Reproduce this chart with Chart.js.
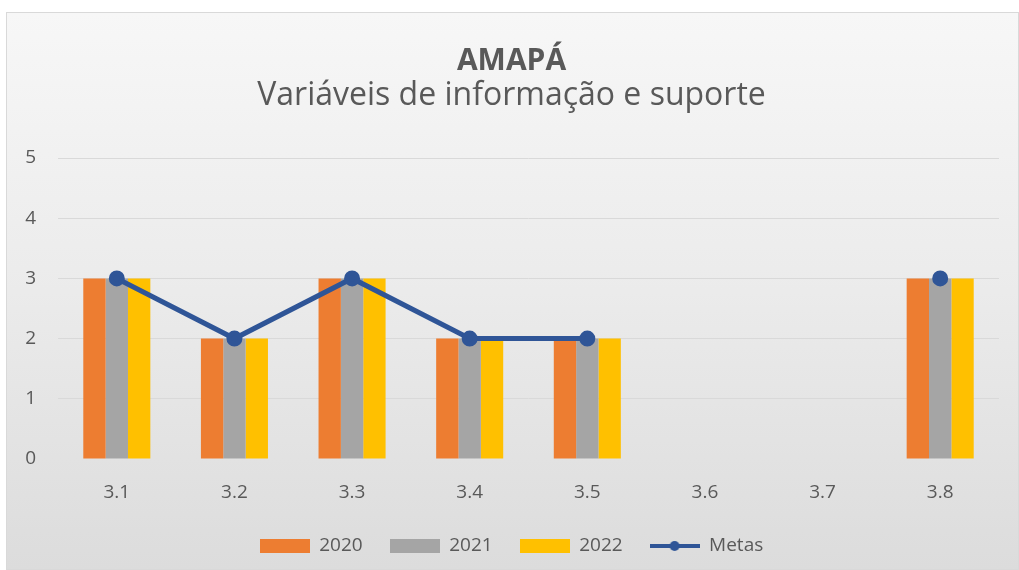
<!DOCTYPE html>
<html lang="pt">
<head>
<meta charset="utf-8">
<title>AMAPÁ - Variáveis de informação e suporte</title>
<script src="https://cdn.jsdelivr.net/npm/chart.js@4"></script>
<style>
    html, body {
        margin: 0;
        padding: 0;
        background: #ffffff;
        width: 1019px;
        height: 570px;
        overflow: hidden;
    }
    .chart-box {
        position: absolute;
        left: 6px;
        top: 12px;
        width: 1013px;
        height: 558px;
        box-sizing: border-box;
        border: 1px solid #d9d9d9;
        background: linear-gradient(to bottom, #f7f7f7 0%, #ebebeb 50%, #dcdcdc 100%);
    }
    .chart-box canvas {
        display: block;
    }
</style>
</head>
<body>
<div class="chart-box">
    <canvas id="amapaChart" width="1011" height="556"></canvas>
</div>
<script>
// Chart data
const categories = ['3.1', '3.2', '3.3', '3.4', '3.5', '3.6', '3.7', '3.8'];
const values2020 = [3, 2, 3, 2, 2, null, null, 3];
const values2021 = [3, 2, 3, 2, 2, null, null, 3];
const values2022 = [3, 2, 3, 2, 2, null, null, 3];
const metas = [3, 2, 3, 2, 2, null, null, 3];
const yTicks = [0, 1, 2, 3, 4, 5];

const textGray = '#595959';
const fontFamily = '"Open Sans", "Noto Sans", sans-serif';

// Legend markers: wide bar swatches and a line with a dot
function makeSwatch(color, isLine) {
    const c = document.createElement('canvas');
    c.width = 50;
    c.height = 14;
    const ctx = c.getContext('2d');
    if (isLine) {
        ctx.strokeStyle = color;
        ctx.lineWidth = 4;
        ctx.beginPath();
        ctx.moveTo(0, 7);
        ctx.lineTo(50, 7);
        ctx.stroke();
        ctx.fillStyle = color;
        ctx.beginPath();
        ctx.arc(25, 7, 5, 0, Math.PI * 2);
        ctx.fill();
    } else {
        ctx.fillStyle = color;
        ctx.fillRect(0, 0, 50, 14);
    }
    return c;
}

document.addEventListener('DOMContentLoaded', function() {
    const ctx = document.getElementById('amapaChart').getContext('2d');

    new Chart(ctx, {
        data: {
            labels: categories,
            datasets: [
                {
                    type: 'line',
                    label: 'Metas',
                    data: metas,
                    borderColor: '#2F5597',
                    backgroundColor: '#2F5597',
                    borderWidth: 5,
                    pointRadius: 5.5,
                    pointHoverRadius: 5.5,
                    spanGaps: false,
                    order: 0,
                    legendOrder: 3
                },
                {
                    type: 'bar',
                    label: '2020',
                    data: values2020,
                    backgroundColor: '#ED7D31',
                    order: 1,
                    legendOrder: 0
                },
                {
                    type: 'bar',
                    label: '2021',
                    data: values2021,
                    backgroundColor: '#A5A5A5',
                    order: 1,
                    legendOrder: 1
                },
                {
                    type: 'bar',
                    label: '2022',
                    data: values2022,
                    backgroundColor: '#FFC000',
                    order: 1,
                    legendOrder: 2
                }
            ]
        },
        options: {
            responsive: false,
            animation: false,
            datasets: {
                bar: {
                    categoryPercentage: 0.57,
                    barPercentage: 1.0
                }
            },
            layout: {
                padding: { left: 17, right: 19, top: 0, bottom: 3.5 }
            },
            scales: {
                x: {
                    afterFit: function(scale) {
                        scale.height = 50.5;
                    },
                    grid: { display: false },
                    border: { display: false },
                    ticks: {
                        color: textGray,
                        font: { family: fontFamily, size: 19 },
                        padding: 14
                    }
                },
                y: {
                    min: 0,
                    max: 5,
                    afterFit: function(scale) {
                        scale.width = 34;
                    },
                    afterBuildTicks: function(scale) {
                        scale.ticks = yTicks.map(v => ({ value: v }));
                    },
                    grid: {
                        color: function(c) {
                            return c.tick && c.tick.value === 0 ? 'rgba(0,0,0,0)' : '#d9d9d9';
                        },
                        lineWidth: 1,
                        drawTicks: false
                    },
                    border: { display: false },
                    ticks: {
                        color: textGray,
                        font: { family: fontFamily, size: 19 },
                        padding: 22
                    }
                }
            },
            plugins: {
                title: {
                    display: true,
                    text: 'AMAPÁ',
                    color: textGray,
                    font: { family: fontFamily, size: 30, weight: 'bold', lineHeight: 1 },
                    padding: { top: 33, bottom: 0 }
                },
                subtitle: {
                    display: true,
                    text: 'Variáveis de informação e suporte',
                    color: textGray,
                    font: { family: fontFamily, size: 32, lineHeight: 1 },
                    padding: { top: 4, bottom: 46 }
                },
                legend: {
                    position: 'bottom',
                    labels: {
                        color: textGray,
                        font: { family: fontFamily, size: 19 },
                        usePointStyle: true,
                        pointStyleWidth: 50,
                        padding: 27,
                        generateLabels: function(chart) {
                            return chart.data.datasets
                                .map((ds, i) => ({
                                    text: ds.label,
                                    fontColor: textGray,
                                    pointStyle: makeSwatch(ds.backgroundColor, ds.type === 'line'),
                                    datasetIndex: i,
                                    lineWidth: 0,
                                    strokeStyle: 'rgba(0,0,0,0)',
                                    fillStyle: ds.backgroundColor,
                                    hidden: false,
                                    order: ds.legendOrder
                                }))
                                .sort((a, b) => a.order - b.order);
                        }
                    }
                },
                tooltip: { enabled: false }
            }
        }
    });
});
</script>
</body>
</html>
